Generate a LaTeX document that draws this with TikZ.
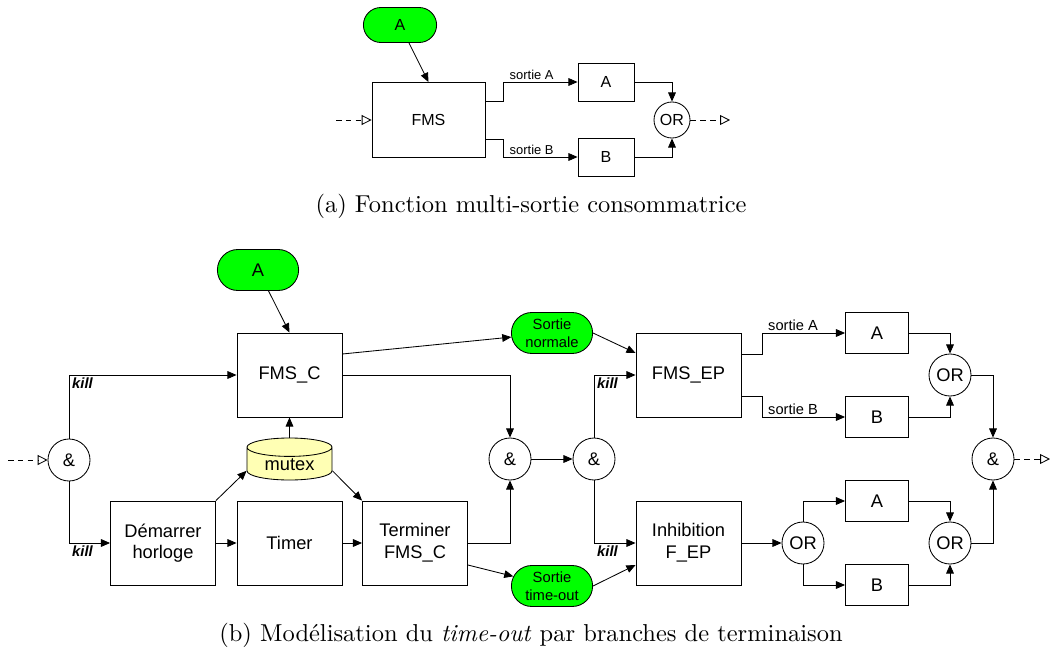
\documentclass[tikz,border=0pt]{standalone}
\usepackage{fontspec}
\setsansfont{Liberation Sans}
\usetikzlibrary{shapes}
\usetikzlibrary{calc}
\usetikzlibrary{arrows.meta}

\definecolor{evgreen}{RGB}{0,255,0}
\definecolor{mutexyellow}{RGB}{255,255,180}

\begin{document}
\begin{tikzpicture}[x=0.025cm, y=-0.025cm, line width=0.6pt,
  >={Triangle[length=6.5pt,width=5.5pt]},
  every node/.style={font=\sffamily},
  blk/.style={draw, rectangle, align=center, minimum width=2.625cm, minimum height=2.1cm,
    font=\sffamily\fontsize{13}{15.4}\selectfont},
  outbox/.style={draw, rectangle, minimum width=1.575cm, minimum height=1.025cm,
    font=\sffamily\fontsize{13}{15.4}\selectfont},
  gate/.style={draw, circle, inner sep=0pt, minimum size=1.05cm,
    font=\sffamily\fontsize{13}{15.4}\selectfont},
  event/.style={draw, fill=evgreen, rounded rectangle, align=center, inner sep=1pt,
    minimum width=2.1cm, minimum height=1.025cm, font=\sffamily\fontsize{10.5}{12.5}\selectfont},
  mutexdb/.style={draw, fill=mutexyellow, cylinder, shape border rotate=90, aspect=0.35,
    minimum width=2.125cm, minimum height=1.05cm, inner sep=1pt,
    font=\sffamily\fontsize{13}{15.4}\selectfont},
  afont/.style={font=\sffamily\fontsize{11.4}{13.5}\selectfont},
  lbl/.style={font=\sffamily\fontsize{10.4}{12}\selectfont, inner sep=1.5pt},
  albl/.style={font=\sffamily\fontsize{9.2}{11}\selectfont, inner sep=1.5pt},
  kill/.style={font=\sffamily\bfseries\itshape\fontsize{10.5}{12}\selectfont, inner sep=2pt},
  signal/.style={dashed, dash pattern=on 4pt off 3pt, -{Triangle[open,length=7pt,width=7pt]}},
  caption/.style={font=\rmfamily\fontsize{10}{12}\selectfont, scale=1.74}]
  \useasboundingbox (0,0) rectangle (1051,650);

  % (a) fonction multi-sortie
  \node[event, minimum width=1.9cm, minimum height=0.875cm, afont] (a-ev) at (400,25) {A};
  \node[blk, minimum width=2.825cm, minimum height=1.875cm, afont] (a-fms) at (428.5,120) {FMS};
  \node[outbox, minimum width=1.4cm, minimum height=0.95cm, afont] (a-outA) at (606,82) {A};
  \node[outbox, minimum width=1.4cm, minimum height=0.95cm, afont] (a-outB) at (606,157) {B};
  \node[gate, minimum size=0.9cm, afont] (a-or) at (672,120) {OR};
  \coordinate (a-in) at (336,120);
  \coordinate (a-out) at (730,120);

  \path[->] (a-ev) edge (a-fms.north);
  \draw[signal] (a-in) -- (a-fms);
  \draw[->] ($(a-fms.east)+(0,-19)$) -- ++(18,0) |- node[pos=0.69, above, albl] {sortie A} (a-outA);
  \draw[->] ($(a-fms.east)+(0,19)$) -- ++(18,0) |- node[pos=0.69, above, albl] {sortie B} (a-outB);
  \draw[->] (a-outA) -| (a-or);
  \draw[->] (a-outB) -| (a-or);
  \draw[signal] (a-or) -- (a-out);

  \node[caption] (capA) at (531,206) {(a)~Fonction multi-sortie consommatrice};

  % (b) time-out
  \node[event, font=\sffamily\fontsize{13}{15.4}\selectfont] (b-ev) at (258,270) {A};
  \node[blk] (fmsc) at (289.5,375) {FMS\_C};
  \node[gate] (and1) at (69,460) {\&};
  \node[blk] (demarrer) at (163,543) {Démarrer\\horloge};
  \node[blk] (timer) at (289.5,543) {Timer};
  \node[blk] (terminer) at (415,543) {Terminer\\FMS\_C};
  \node[mutexdb, anchor=shape center] (mutex) at (289.5,459) {mutex};
  \node[event] (snorm) at (552,333) {Sortie\\normale};
  \node[event] (stout) at (552,586) {Sortie\\time-out};
  \node[gate] (and2) at (510,459) {\&};
  \node[gate] (and3) at (594,459) {\&};
  \node[blk] (fmsep) at (688.5,375) {FMS\_EP};
  \node[blk] (inhib) at (688.5,543) {Inhibition\\F\_EP};
  \node[outbox] (epA) at (877,333) {A};
  \node[outbox] (epB) at (877,417) {B};
  \node[outbox] (inA) at (877,501) {A};
  \node[outbox] (inB) at (877,585) {B};
  \node[gate] (or1) at (950,375) {OR};
  \node[gate] (or2) at (803,543) {OR};
  \node[gate] (or3) at (950,543) {OR};
  \node[gate] (and4) at (993,459) {\&};
  \coordinate (b-in) at (8,460);
  \coordinate (b-out) at (1050,459);

  \draw[signal] (b-in) -- (and1);
  \draw[->] (and1) |- node[pos=0.5, below right, kill] {kill} (fmsc);
  \draw[->] (and1) |- node[pos=0.5, below right, kill] {kill} (demarrer);
  \path[->] (b-ev) edge (fmsc.north);
  \path[->] (demarrer) edge (timer);
  \path[->] (timer) edge (terminer);
  \path[->] (mutex.top) edge (fmsc);
  \path[->] (demarrer.north east) edge (mutex.after bottom);
  \path[->] (mutex.before bottom) edge (terminer.north west);
  \path[->] ($(fmsc.east)+(0,-21)$) edge (snorm);
  \draw[->] (fmsc) -| (and2);
  \draw[->] (terminer) -| (and2);
  \path[->] ($(terminer.east)+(0,22)$) edge (stout);
  \path[->] (and2) edge (and3);
  \path[->] (snorm.east) edge ($(fmsep.west)+(0,-22)$);
  \path[->] (stout.east) edge ($(inhib.west)+(0,22)$);
  \draw[->] (and3) |- node[pos=0.5, below right, kill] {kill} (fmsep);
  \draw[->] (and3) |- node[pos=0.5, below right, kill] {kill} (inhib);
  \draw[->] ($(fmsep.east)+(0,-21)$) -- ++(21,0) |- node[pos=0.685, above, lbl] {sortie A} (epA);
  \draw[->] ($(fmsep.east)+(0,21)$) -- ++(21,0) |- node[pos=0.685, above, lbl] {sortie B} (epB);
  \draw[->] (epA) -| (or1);
  \draw[->] (epB) -| (or1);
  \draw[->] (or1) -| (and4);
  \path[->] (inhib) edge (or2);
  \draw[->] (or2) |- (inA);
  \draw[->] (or2) |- (inB);
  \draw[->] (inA) -| (or3);
  \draw[->] (inB) -| (or3);
  \draw[->] (or3) -| (and4);
  \draw[signal] (and4) -- (b-out);

  \node[caption] (capB) at (531,635) {(b)~Modélisation du \textit{time-out} par branches de terminaison};
\end{tikzpicture}
\end{document}
